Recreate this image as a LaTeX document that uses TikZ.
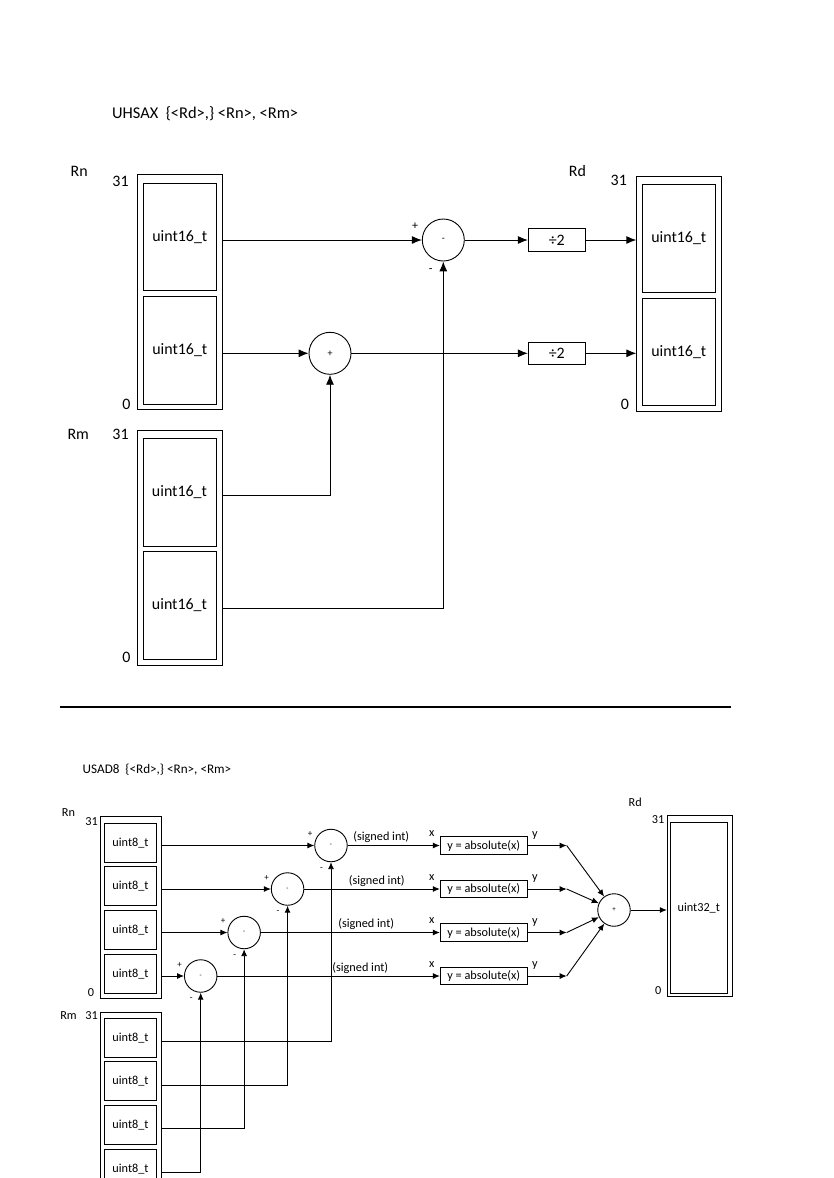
\documentclass[tikz,border=0pt]{standalone}
\usepackage{fontspec}
\setmainfont{Carlito}
\usetikzlibrary{arrows.meta, positioning, calc}

\begin{document}
\begin{tikzpicture}[x=1bp, y=-1bp, line width=.9pt, >={Latex[length=10pt,width=8pt]},
        every node/.style={inner sep=0pt, font=\fontsize{16}{19}\selectfont},
        reg/.style={draw, minimum width=84.5bp, minimum height=235bp},
        half/.style={draw, minimum width=73bp, minimum height=107.5bp},
        op/.style={draw, circle, minimum size=42bp, font=\fontsize{10}{12}\selectfont},
        divbox/.style={draw, minimum width=57bp, minimum height=22.6bp},
        sgn/.style={font=\fontsize{12}{14}\selectfont},
        txteight/.style={font=\fontsize{12.3}{14}\selectfont},
        regeight/.style={draw, minimum width=61.3bp, minimum height=182bp},
        byte/.style={draw, txteight, minimum width=52.4bp, minimum height=39bp},
        sop/.style={draw, circle, minimum size=32.5bp, font=\fontsize{7}{8}\selectfont},
        ssgn/.style={font=\fontsize{9}{10}\selectfont},
        absbox/.style={draw, txteight, minimum width=87bp, minimum height=17.7bp}]
\useasboundingbox (0,0) rectangle (834,1178);
\clip (0,0) rectangle (834,1178);

\node[anchor=west, font=\fontsize{16.5}{19}\selectfont] (uhsax) at (111.7,114) {UHSAX\ \ \{<Rd>,\} <Rn>, <Rm>};
\node[reg] (rn) at (180,292.3) {};
\node[half] (rn1) at (179.8,236.8) {uint16\_t};
\node[half] (rn0) at (179.8,350.3) {uint16\_t};
\node[reg] (rm) at (179.7,547.5) {};
\node[half] (rm1) at (179.5,492.3) {uint16\_t};
\node[half] (rm0) at (179.5,605.3) {uint16\_t};
\node[reg] (rd) at (679,293.7) {};
\node[half] (rd1) at (678.8,238.3) {uint16\_t};
\node[half] (rd0) at (678.8,352) {uint16\_t};
\node (rnname) at (79.2,171) {Rn};
\node (rnhi) at (120.5,181) {31};
\node (rnlo) at (126.3,404.5) {0};
\node (rmname) at (78.2,434) {Rm};
\node (rmhi) at (120.5,434.5) {31};
\node (rmlo) at (126.3,657) {0};
\node (rdname) at (577.5,171) {Rd};
\node (rdhi) at (618.8,180.7) {31};
\node (rdlo) at (625,404.3) {0};

\node[op] (sub) at (443.3,240) {-};
\node[op] (add) at (330,353.3) {+};
\node[divbox] (div1) at (556.8,240) {÷2};
\node[divbox] (div0) at (556.8,353.3) {÷2};
\node[sgn] (subp) at (415,226) {+};
\node[sgn] (subm) at (430.7,271) {-};

\draw[->] (sub.west -| rn.east) -- (sub.west);
\draw[->] (add.west -| rn.east) -- (add.west);
\draw[->] ([yshift=-2.8pt]rm1.east -| rm.east) -| (add.south);
\draw[->] ([yshift=-2.8pt]rm0.east -| rm.east) -| (sub.south);
\draw[->] (sub) -- (div1);
\draw[->] (add) -- (div0);
\draw[->] (div1) -- (div1 -| rd.west);
\draw[->] (div0) -- (div0 -| rd.west);

\coordinate (sepl) at (60,707.3);
\coordinate (sepr) at (730.7,707.3);
\draw[line width=2pt] (sepl) -- (sepr);

\begin{scope}[>={Latex[length=7pt,width=6pt]}, every node/.append style={txteight}]
\node[anchor=west, font=\fontsize{13.2}{15}\selectfont] (usad) at (82.3,770) {USAD8\ \ \{<Rd>,\} <Rn>, <Rm>};
\node[regeight] (brn) at (130.7,907.3) {};
\node[regeight] (brm) at (130.7,1103) {};
\node[draw, minimum width=65bp, minimum height=180.3bp] (brd) at (699.8,905.9) {};
\node[draw, minimum width=57bp, minimum height=171bp] (brd0) at (698.8,907.8) {uint32\_t};
\node (brnname) at (68.5,813) {Rn};
\node (brnhi) at (91.5,822) {31};
\node (brnlo) at (91,992.7) {0};
\node (brmname) at (68.5,1016) {Rm};
\node (brmhi) at (91.5,1016) {31};
\node (brdname) at (635.2,802.3) {Rd};
\node (brdhi) at (658.2,819.3) {31};
\node (brdlo) at (658.2,991) {0};

\node[sop] (sum) at (614,910) {+};
\draw[->] (sum) -- (sum -| brd.west);
\foreach \i/\lx in {0/360.3, 1/366.2, 2/376.8, 3/381.3} {
  \pgfmathsetmacro\ry{976-43.5*\i}
  \node[byte] (rnb\i) at (130.5,973.8-43.7*\i) {uint8\_t};
  \node[byte] (rmb\i) at (130.5,1168.8-43.7*\i) {uint8\_t};
  \node[sop] (s\i) at (200.7+43.43*\i,\ry) {-};
  \node[ssgn] (sp\i) at ([shift={(-21,-11)}]s\i.center) {+};
  \node[ssgn] (sm\i) at ([shift={(-9.5,23.5)}]s\i.center) {-};
  \node[absbox] (abs\i) at (483.8,\ry) {y = absolute(x)};
  \node (sint\i) at (\lx,\ry-8) {(signed int)};
  \node (ax\i) at (431.7,\ry-11.5) {x};
  \node (ay\i) at (535,\ry-10) {y};
  \coordinate (tip\i) at (566.7,\ry);
  \draw[->] (s\i.west -| brn.east) -- (s\i.west);
  \draw[->] ([yshift=-3.8pt]rmb\i.east -| brm.east) -| (s\i.south);
  \draw[->] (s\i) -- (abs\i);
  \draw[->] (abs\i) -- (tip\i);
  \draw[->] (tip\i) -- (sum);
}
\end{scope}
\end{tikzpicture}
\end{document}
